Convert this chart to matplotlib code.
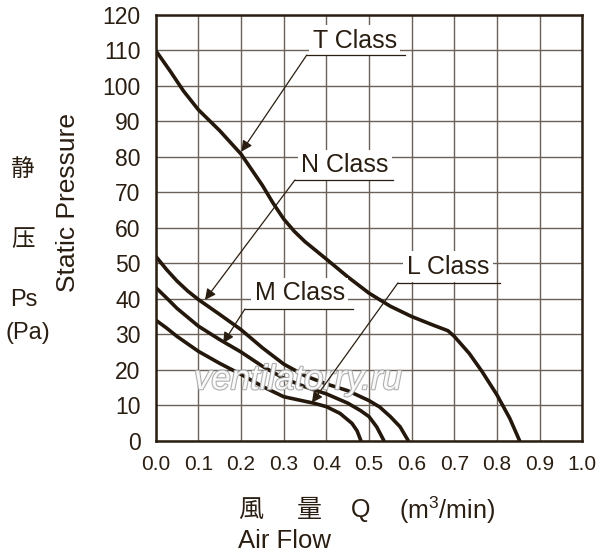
import matplotlib
matplotlib.use("Agg")
import matplotlib.pyplot as plt
import matplotlib.patheffects as pe

# P-Q curves (Q in m3/min, Ps in Pa)
t_q = [0, 0.035, 0.065, 0.1, 0.15, 0.2, 0.25, 0.275, 0.3, 0.325, 0.35, 0.4,
       0.45, 0.5, 0.55, 0.6, 0.65, 0.685, 0.7, 0.735, 0.765, 0.8, 0.83, 0.853]
t_ps = [110, 104, 98.6, 93.3, 87.4, 80.8, 72, 67, 62.5, 59, 56.1, 51.2,
        46.2, 41.6, 37.9, 35, 32.6, 31, 29.4, 24.6, 19.5, 12.9, 6.3, 0]

n_q = [0, 0.025, 0.05, 0.075, 0.1, 0.15, 0.2, 0.25, 0.3, 0.35, 0.4, 0.45, 0.5,
       0.525, 0.55, 0.573, 0.592]
n_ps = [52, 48.3, 45, 42.2, 39.8, 35.6, 31.3, 26.2, 21.6, 18.3, 16, 14.1, 11.3,
        9.5, 6.8, 3.9, 0]

m_q = [0, 0.025, 0.05, 0.1, 0.15, 0.2, 0.25, 0.3, 0.35, 0.4, 0.45, 0.48, 0.5,
       0.518, 0.535]
m_ps = [43.2, 40.3, 37.3, 32.3, 28.5, 25, 21, 17.6, 15.2, 13.2, 10.6, 8.5, 6.8,
        3.9, 0]

l_q = [0, 0.025, 0.05, 0.1, 0.15, 0.2, 0.25, 0.3, 0.35, 0.37, 0.4, 0.432, 0.46,
       0.472, 0.481]
l_ps = [34, 31.8, 29.4, 25.2, 21.8, 18.7, 15.3, 12.4, 11.1, 10.6, 9.6, 7.7, 4.9,
        2.8, 0]

x_ticks = [0.0, 0.1, 0.2, 0.3, 0.4, 0.5, 0.6, 0.7, 0.8, 0.9, 1.0]
y_ticks = [0, 10, 20, 30, 40, 50, 60, 70, 80, 90, 100, 110, 120]

# label text, text centre, underline (x0, x1, y), arrow tip
labels = [
    ("T Class", (0.467, 112.7), (0.354, 0.584, 108.7), (0.201, 81.5)),
    ("N Class", (0.444, 77.7), (0.3265, 0.556, 73.5), (0.1156, 39.7)),
    ("M Class", (0.338, 41.6), (0.209, 0.462, 37.1), (0.158, 27.5)),
    ("L Class", (0.685, 49.0), (0.568, 0.807, 44.5), (0.366, 10.7)),
]

INK = "#2a1e12"
LINE = "#24170b"
GRID = "#6b6157"

plt.rcParams["font.family"] = ["Liberation Sans", "Noto Sans CJK SC", "DejaVu Sans"]
plt.rcParams["mathtext.fontset"] = "custom"
plt.rcParams["mathtext.rm"] = "Liberation Sans"

W, H = 600, 558
fig = plt.figure(figsize=(W / 100, H / 100), dpi=100)
ax = fig.add_axes([155.7 / W, 1 - 440.7 / H, 426.6 / W, 425.7 / H])

ax.set_xlim(0, 1.0)
ax.set_ylim(0, 120)
ax.set_xticks(x_ticks)
ax.set_yticks(y_ticks)
ax.set_xticklabels([f"{v:.1f}" for v in x_ticks])
ax.set_yticklabels([str(v) for v in y_ticks])
ax.tick_params(axis="both", length=0, colors=INK)
ax.tick_params(axis="x", labelsize=15, pad=10)
ax.tick_params(axis="y", labelsize=16.5, pad=11)
ax.grid(True, color=GRID, linewidth=1.0)
for s in ax.spines.values():
    s.set_color(INK)
    s.set_linewidth(1.8)
    s.set_zorder(5)

for q, ps in [(t_q, t_ps), (n_q, n_ps), (m_q, m_ps), (l_q, l_ps)]:
    ax.plot(q, ps, color=LINE, linewidth=2.6, solid_capstyle="round",
            solid_joinstyle="round", zorder=3)

for text, (tx, ty), (u0, u1, uy), tip in labels:
    ax.text(tx, ty, text, ha="center", va="center", fontsize=18, color=INK,
            zorder=6, bbox=dict(facecolor="white", edgecolor="none", pad=2.5))
    ax.plot([u0, u1], [uy, uy], color=INK, linewidth=0.9, zorder=6)
    ax.annotate("", xy=tip, xytext=(u0, uy),
                arrowprops=dict(arrowstyle="-|>", color=INK, lw=0.9,
                                mutation_scale=16, shrinkA=0, shrinkB=0),
                zorder=6)

# watermark
ax.text(0.334, 17.2, "ventilatorry.ru", ha="center", va="center",
        fontsize=25, style="italic", color="white", alpha=0.9, zorder=4,
        path_effects=[pe.withStroke(linewidth=1.6, foreground="#a8a8a8")])


def ftext(px, py, s, **kw):
    fig.text(px / W, 1 - py / H, s, color=INK, **kw)


ftext(68, 203, "Static Pressure", rotation=90, ha="center", va="center", fontsize=19)
ftext(23, 170, "静", ha="center", va="center", fontsize=17)
ftext(23, 240, "压", ha="center", va="center", fontsize=17)
ftext(24, 300, "Ps", ha="center", va="center", fontsize=17)
ftext(28, 333, "(Pa)", ha="center", va="center", fontsize=17)

ftext(251, 510, "風", ha="center", va="center", fontsize=18)
ftext(309, 510, "量", ha="center", va="center", fontsize=18)
ftext(361, 510, "Q", ha="center", va="center", fontsize=18)
ftext(447, 510, r"(m$^{\mathrm{3}}$/min)", ha="center", va="center", fontsize=18)
ftext(238, 541, "Air Flow", ha="left", va="center", fontsize=18.5)

fig.savefig("out.png", dpi=100)
